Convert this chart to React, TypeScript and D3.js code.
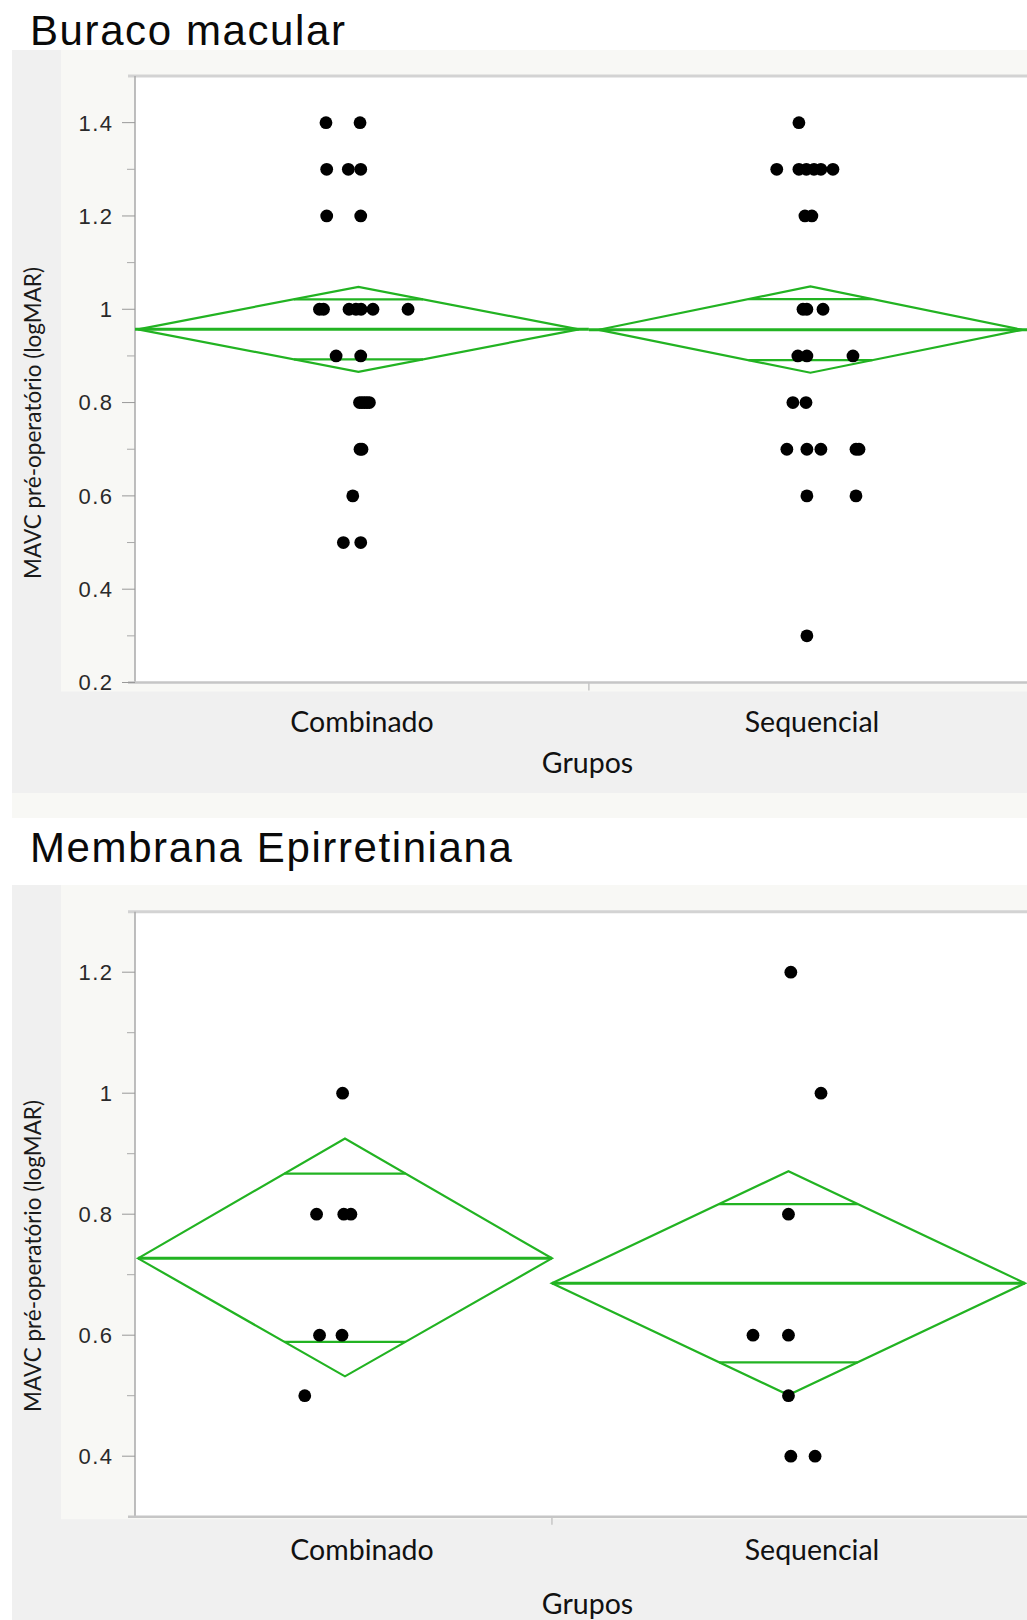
import React from "react";
import * as d3 from "d3";

// ---------- data ----------
const groups = ["Combinado", "Sequencial"];
const panelTitles = ["Buraco macular", "Membrana Epirretiniana"];
const yAxisTitle = "MAVC pré-operatório (logMAR)";
const xAxisTitle = "Grupos";

// Panel 1 – Buraco macular (values + horizontal jitter in group-count units)
const bmCombinadoValues = [1.4, 1.4, 1.3, 1.3, 1.3, 1.2, 1.2, 1.0, 1.0, 1.0, 1.0, 1.0, 1.0, 1.0, 0.9, 0.9, 0.8, 0.8, 0.8, 0.8, 0.8, 0.7, 0.7, 0.6, 0.5, 0.5];
const bmCombinadoJitter = [-1.83, 0.09, -1.79, -0.57, 0.13, -1.79, 0.13, -2.2, -1.97, -0.53, -0.14, 0.15, 0.82, 2.8, -1.26, 0.13, 0.06, 0.2, 0.34, 0.48, 0.62, 0.09, 0.2, -0.32, -0.85, 0.13];
const bmSequencialValues = [1.4, 1.3, 1.3, 1.3, 1.3, 1.3, 1.3, 1.2, 1.2, 1.0, 1.0, 1.0, 0.9, 0.9, 0.9, 0.8, 0.8, 0.7, 0.7, 0.7, 0.7, 0.7, 0.6, 0.6, 0.3];
const bmSequencialJitter = [-0.65, -1.9, -0.65, -0.23, 0.2, 0.59, 1.27, -0.31, 0.08, -0.42, -0.2, 0.71, -0.71, -0.2, 2.4, -0.99, -0.25, -1.33, -0.2, 0.59, 2.57, 2.74, -0.2, 2.57, -0.2];
const bmMeans = [0.957, 0.956];
const bmCiLower = [0.866, 0.864];
const bmCiUpper = [1.048, 1.049];
const bmYDomain = [0.2, 1.5];
const bmYTicks = [0.2, 0.4, 0.6, 0.8, 1.0, 1.2, 1.4];
const bmYMinorTicks = [0.3, 0.5, 0.7, 0.9, 1.1, 1.3];

// Panel 2 – Membrana Epirretiniana
const meCombinadoValues = [1.0, 0.8, 0.8, 0.8, 0.6, 0.6, 0.5];
const meCombinadoJitter = [-0.04, -0.48, -0.02, 0.1, -0.43, -0.05, -0.68];
const meSequencialValues = [1.2, 1.0, 0.8, 0.6, 0.6, 0.5, 0.4, 0.4];
const meSequencialJitter = [0.04, 0.55, 0.0, -0.6, 0.0, 0.0, 0.04, 0.45];
const meMeans = [0.727, 0.686];
const meCiLower = [0.532, 0.501];
const meCiUpper = [0.925, 0.871];
const meYDomain = [0.3, 1.3];
const meYTicks = [0.4, 0.6, 0.8, 1.0, 1.2];
const meYMinorTicks = [0.5, 0.7, 0.9, 1.1];

// ---------- styles ----------
const GREEN = "#22b322";
const W = 1027;
const H = 1620;
const fmt = (d: number) => String(+d.toFixed(1));

type PanelSpec = {
  id: string;
  title: string;
  values: number[][];
  jitter: number[][];
  means: number[];
  lo: number[];
  hi: number[];
  yDomain: number[];
  yTicks: number[];
  yMinor: number[];
  titleBaseline: number;
  bgTop: number;
  bgBottom: number;
  stripBottom: number | null;
  innerBottom: number;
  plotTop: number;
  plotBottom: number;
  diamondRange: [number, number];
  pad: number;
  catBaseline: number;
  xTitleBaseline: number;
  yTitleCenter: number;
};

const panels: PanelSpec[] = [
  {
    id: "bm",
    title: panelTitles[0],
    values: [bmCombinadoValues, bmSequencialValues],
    jitter: [bmCombinadoJitter, bmSequencialJitter],
    means: bmMeans,
    lo: bmCiLower,
    hi: bmCiUpper,
    yDomain: bmYDomain,
    yTicks: bmYTicks,
    yMinor: bmYMinorTicks,
    titleBaseline: 45,
    bgTop: 50,
    bgBottom: 793,
    stripBottom: 818,
    innerBottom: 691.5,
    plotTop: 76,
    plotBottom: 682.5,
    diamondRange: [128, 1032],
    pad: 10,
    catBaseline: 732,
    xTitleBaseline: 773,
    yTitleCenter: 423,
  },
  {
    id: "me",
    title: panelTitles[1],
    values: [meCombinadoValues, meSequencialValues],
    jitter: [meCombinadoJitter, meSequencialJitter],
    means: meMeans,
    lo: meCiLower,
    hi: meCiUpper,
    yDomain: meYDomain,
    yTicks: meYTicks,
    yMinor: meYMinorTicks,
    titleBaseline: 862,
    bgTop: 885,
    bgBottom: 1640,
    stripBottom: null,
    innerBottom: 1519.3,
    plotTop: 911.7,
    plotBottom: 1516.7,
    diamondRange: [138, 1025],
    pad: 0,
    catBaseline: 1560,
    xTitleBaseline: 1614,
    yTitleCenter: 1256,
  },
];

function Panel({ p }: { p: PanelSpec }) {
  const plotLeft = 135;
  const y = d3.scaleLinear().domain(p.yDomain).range([p.plotBottom, p.plotTop]);
  const ns = p.values.map((v) => v.length);
  const cum = Array.from(d3.cumsum(ns));
  const starts = ns.map((n, i) => cum[i] - n);
  const x = d3.scaleLinear().domain([0, d3.sum(ns)]).range(p.diamondRange);
  const band = d3.scaleBand().domain(groups).range([137, 1037]);
  const clipPlot = `clip-plot-${p.id}`;
  const clipAxis = `clip-axis-${p.id}`;
  const r2 = Math.SQRT2;

  return (
    <g>
      <defs>
        <clipPath id={clipPlot}>
          <rect x={plotLeft} y={p.plotTop} width={W - plotLeft} height={p.plotBottom - p.plotTop} />
        </clipPath>
        <clipPath id={clipAxis}>
          <rect x={0} y={p.bgTop} width={plotLeft + 2} height={p.innerBottom - p.bgTop} />
        </clipPath>
      </defs>
      {/* backgrounds */}
      <rect x={12} y={p.bgTop} width={W - 12} height={p.bgBottom - p.bgTop} fill="#f0f0f0" />
      {p.stripBottom !== null && (
        <rect x={12} y={p.bgBottom} width={W - 12} height={p.stripBottom - p.bgBottom} fill="#f8f8f5" />
      )}
      <rect x={61} y={p.bgTop} width={W - 61} height={p.innerBottom - p.bgTop} fill="#f8f8f5" />
      <rect x={plotLeft} y={p.plotTop} width={W - plotLeft} height={p.plotBottom - p.plotTop} fill="#ffffff" />

      {/* frame */}
      <line x1={128} x2={W} y1={p.plotTop} y2={p.plotTop} stroke="#d3d3d3" strokeWidth={3} />
      <line x1={plotLeft} x2={plotLeft} y1={p.plotTop} y2={p.plotBottom} stroke="#a9a9a9" strokeWidth={1.5} />
      <line x1={128} x2={W} y1={p.plotBottom} y2={p.plotBottom} stroke="#c6c6c6" strokeWidth={2.5} />

      {/* y axis ticks & labels */}
      <g clipPath={`url(#${clipAxis})`}>
        {p.yTicks.map((t) => (
          <g key={"M" + t}>
            <line x1={122} x2={plotLeft} y1={y(t)} y2={y(t)} stroke="#999" strokeWidth={1} />
            <text
              x={113.5}
              y={y(t)}
              dy="0.36em"
              textAnchor="end"
              fontFamily="'Liberation Sans', Arial, sans-serif"
              fontSize={22}
              letterSpacing={1.5}
              fill="#2a2a2a"
            >
              {fmt(t)}
            </text>
          </g>
        ))}
        {p.yMinor.map((t) => (
          <line key={"m" + t} x1={127} x2={plotLeft} y1={y(t)} y2={y(t)} stroke="#aaa" strokeWidth={1} />
        ))}
      </g>

      {/* group boundary tick on x axis */}
      {cum.slice(0, -1).map((c, i) => (
        <line key={"gt" + i} x1={x(c)} x2={x(c)} y1={p.plotBottom} y2={p.plotBottom + 8} stroke="#c6c6c6" strokeWidth={1.5} />
      ))}

      {/* diamonds and points */}
      <g clipPath={`url(#${clipPlot})`}>
        {groups.map((g, i) => {
          const s = x(starts[i]);
          const e = x(cum[i]);
          const ds = s + p.pad;
          const de = e - p.pad;
          const c = (ds + de) / 2;
          const m = p.means[i];
          const half = (p.hi[i] - m) / r2;
          const halfLo = (m - p.lo[i]) / r2;
          const hwTop = ((de - ds) / 2) * (1 - 1 / r2);
          const path = d3.line()([
            [ds, y(m)],
            [c, y(p.hi[i])],
            [de, y(m)],
            [c, y(p.lo[i])],
            [ds, y(m)],
          ]) as string;
          return (
            <g key={g}>
              <path d={path + "Z"} fill="none" stroke={GREEN} strokeWidth={2.2} strokeLinejoin="miter" />
              <line x1={s} x2={e} y1={y(m)} y2={y(m)} stroke={GREEN} strokeWidth={3} />
              <line x1={c - hwTop} x2={c + hwTop} y1={y(m + half)} y2={y(m + half)} stroke={GREEN} strokeWidth={2.2} />
              <line x1={c - hwTop} x2={c + hwTop} y1={y(m - halfLo)} y2={y(m - halfLo)} stroke={GREEN} strokeWidth={2.2} />
            </g>
          );
        })}
        {groups.map((g, i) =>
          p.values[i].map((v, k) => (
            <circle
              key={g + k}
              cx={x(starts[i] + ns[i] / 2 + p.jitter[i][k])}
              cy={y(v)}
              r={6.4}
              fill="#000"
            />
          ))
        )}
      </g>

      {/* category labels */}
      {groups.map((g) => (
        <text
          key={"cl" + g}
          x={(band(g) as number) + band.bandwidth() / 2}
          y={p.catBaseline}
          textAnchor="middle"
          fontFamily="Lato, 'Open Sans', sans-serif"
          fontSize={28.5}
          fill="#111"
        >
          {g}
        </text>
      ))}
      <text
        x={587.5}
        y={p.xTitleBaseline}
        textAnchor="middle"
        fontFamily="Lato, 'Open Sans', sans-serif"
        fontSize={28.5}
        fill="#111"
      >
        {xAxisTitle}
      </text>
      <text
        transform={`translate(40.5,${p.yTitleCenter}) rotate(-90)`}
        textAnchor="middle"
        fontFamily="Lato, 'Open Sans', sans-serif"
        fontSize={22.5}
        fill="#1a1a1a"
      >
        {yAxisTitle}
      </text>

      {/* panel title */}
      <text
        x={30}
        y={p.titleBaseline}
        fontFamily="'Liberation Sans', Arial, sans-serif"
        fontSize={42}
        letterSpacing={1.6}
        fill="#0a0a0a"
      >
        {p.title}
      </text>
    </g>
  );
}

export default function App() {
  return (
    <div style={{ position: "absolute", left: 0, top: 0 }}>
      <svg width={W} height={H} style={{ display: "block" }}>
        <rect x={0} y={0} width={W} height={H} fill="#ffffff" />
        {panels.map((p) => (
          <Panel key={p.id} p={p} />
        ))}
      </svg>
    </div>
  );
}
